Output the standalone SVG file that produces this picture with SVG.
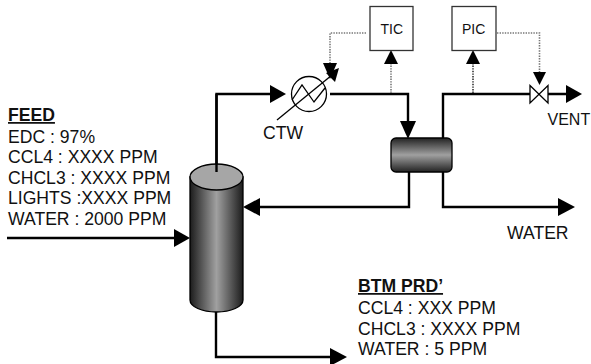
<svg xmlns="http://www.w3.org/2000/svg" width="591" height="364" viewBox="0 0 591 364">
<style>
text{font-family:"Liberation Sans",Arial,sans-serif;font-size:17.600px;fill:#111}
.b{font-weight:bold;text-decoration:underline}
.pipe{fill:none;stroke:#000;stroke-width:2.400}
.sig{fill:none;stroke:#777;stroke-width:1.600;stroke-dasharray:1.400 1.200}
.sig2{fill:none;stroke:#333;stroke-width:1.600;stroke-dasharray:1.400 1.200}
.box{fill:#fff;stroke:#333;stroke-width:1.300}
.ic{font-size:14px}
.vent{font-size:16px}
</style>
<defs>
<linearGradient id="g"><stop offset="0" stop-color="#1c1c1c"/><stop offset=".5" stop-color="#a0a0a0"/><stop offset="1" stop-color="#1c1c1c"/></linearGradient>
<linearGradient id="v" x1="0" y1="0" x2="0" y2="1"><stop offset="0" stop-color="#222"/><stop offset=".5" stop-color="#a0a0a0"/><stop offset="1" stop-color="#222"/></linearGradient>
</defs>
<g id="connectors">
<path class="pipe" d="M7 238H178"/><path d="M174 229L190 238L174 247Z"/>
<path class="pipe" d="M216.500 172V94H275"/><path d="M270 85L286 94L270 103Z"/>
<path class="pipe" d="M330 94H408V125"/><path d="M400 121L408 139L416 121Z"/>
<path class="pipe" d="M409 172V207H255"/><path d="M260 198L243 207L260 216Z"/>
<path class="pipe" d="M443 172V207H563"/><path d="M558 198L575 207L558 216Z"/>
<path class="pipe" d="M443 138V94H530M548 94H570"/><path d="M566 85L582 94L566 103Z"/>
<path class="pipe" d="M216 312V357H335"/><path d="M330 348L347 357L330 366Z"/>
<path class="sig" d="M366 33H330V66"/><path d="M323 63L330 79L337 63Z"/>
<path class="sig" d="M391 93V62"/><path d="M384 64L391 50L398 64Z"/>
<path class="sig2" d="M473 93V62"/><path d="M466 64L473 50L480 64Z"/>
<path class="sig" d="M497 33H539.500V74"/><path d="M533 72L539.500 85L546 72Z"/>
</g>
<g id="column">
<path d="M190 177V300A26.500 12 0 0 0 243 300V177Z" fill="url(#g)" stroke="#000" stroke-width="1.300"/>
<ellipse cx="216.500" cy="177" rx="26.500" ry="13" fill="#a6a6a6" stroke="#000" stroke-width="1.300"/>
<path d="M216.500 172V94" class="pipe"/>
</g>
<g id="condenser">
<rect x="391" y="138" width="61" height="34" rx="5" fill="url(#v)" stroke="#000" stroke-width="1.300"/>
</g>
<g id="exchanger">
<circle cx="309" cy="94" r="17.500" fill="#fff" stroke="#000" stroke-width="1.300"/>
<path d="M292 100L302 85L314 102L325 88" fill="none" stroke="#000" stroke-width="1.300"/>
<path d="M277 120L332 75" fill="none" stroke="#000" stroke-width="1.300"/>
<path d="M326 73L339 68L335 82Z"/>
</g>
<g id="valve">
<path d="M530 85.500L548 103V85.500L530 103Z" fill="#fff" stroke="#000" stroke-width="1.300"/>
</g>
<g id="tic"><rect class="box" x="370" y="6.500" width="43" height="44"/><text class="ic" x="380.500" y="34">TIC</text></g>
<g id="pic"><rect class="box" x="452" y="6.500" width="44" height="44"/><text class="ic" x="462" y="34">PIC</text></g>
<g id="labels">
<text x="263" y="139">CTW</text>
<text class="vent" x="547.500" y="125">VENT</text>
<text x="507" y="239">WATER</text>
<text class="b" x="8" y="121">FEED</text>
<text x="8" y="143">EDC : 97%</text>
<text x="8" y="163">CCL4 : XXXX PPM</text>
<text x="8" y="184">CHCL3 : XXXX PPM</text>
<text x="8" y="204">LIGHTS :XXXX PPM</text>
<text x="8" y="225">WATER : 2000 PPM</text>
<text class="b" x="358" y="292">BTM PRD’</text>
<text x="358" y="314">CCL4 : XXX PPM</text>
<text x="358" y="335">CHCL3 : XXXX PPM</text>
<text x="358" y="355">WATER : 5 PPM</text>
</g>
</svg>
